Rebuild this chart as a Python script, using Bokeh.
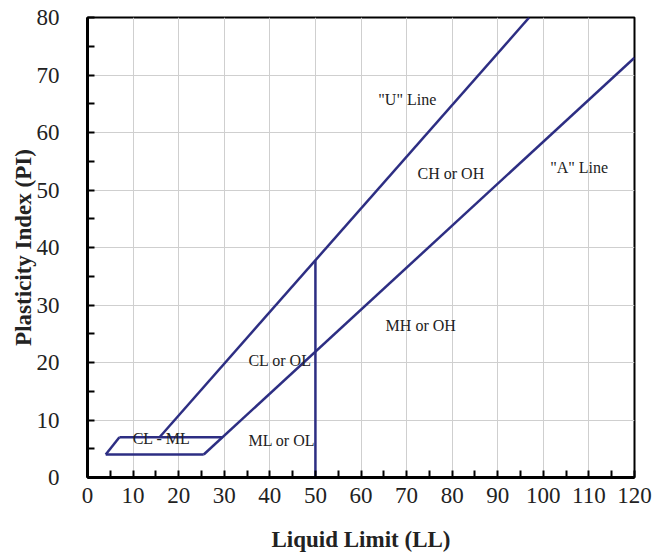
from bokeh.plotting import figure
from bokeh.models import Range1d, FixedTicker, Label
from bokeh.embed import file_html
from bokeh.resources import INLINE

# ---- data ----
u_line_ll = [15.8, 96.9]
u_line_pi = [7.0, 80.0]
a_line_ll = [25.5, 120.0]
a_line_pi = [4.0, 73.0]
ll50_ll = [50.0, 50.0]
ll50_pi = [0.0, 37.8]
clml_low_ll = [4.0, 25.5]
clml_low_pi = [4.0, 4.0]
clml_high_ll = [7.0, 29.6]
clml_high_pi = [7.0, 7.0]
clml_side_ll = [4.0, 7.0]
clml_side_pi = [4.0, 7.0]

zone_labels = ['"U" Line', "CH or OH", '"A" Line', "MH or OH", "CL or OL", "ML or OL", "CL - ML"]
zone_ll = [63.8, 72.4, 101.5, 65.4, 35.3, 35.3, 9.9]
zone_pi = [65.7, 52.9, 54.0, 26.4, 20.3, 6.4, 6.8]

x_ticks = list(range(0, 121, 10))
y_ticks = list(range(0, 81, 10))

LINE = "#2d2e83"
FONT = "Liberation Serif"

p = figure(width=656, height=556, output_backend="svg", toolbar_location=None,
           x_range=Range1d(0, 120), y_range=Range1d(0, 80),
           min_border_left=87, min_border_right=22, min_border_top=17, min_border_bottom=79)

p.outline_line_color = "black"
p.outline_line_width = 2
p.outline_line_alpha = 1

for ax, ticks in ((p.xaxis[0], x_ticks), (p.yaxis[0], y_ticks)):
    ax.ticker = FixedTicker(ticks=ticks, minor_ticks=[t + 5 for t in ticks[:-1]])
    ax.axis_line_width = 3
    ax.axis_line_color = "black"
    ax.major_tick_in = 7
    ax.major_tick_out = 0
    ax.minor_tick_in = 7
    ax.minor_tick_out = 0
    ax.major_tick_line_width = 2
    ax.minor_tick_line_width = 2
    ax.major_label_text_font = FONT
    ax.major_label_text_font_size = "23px"
    ax.major_label_text_color = "#222222"
    ax.axis_label_text_font = FONT
    ax.axis_label_text_font_size = "23px"
    ax.axis_label_text_font_style = "bold"
    ax.axis_label_text_color = "#222222"

p.xaxis.axis_label = "Liquid Limit (LL)"
p.yaxis.axis_label = "Plasticity Index (PI)"
p.xaxis.major_label_standoff = 10
p.xaxis.axis_label_standoff = 21
p.yaxis.major_label_standoff = 28
p.yaxis.axis_label_standoff = -2

p.xgrid.ticker = FixedTicker(ticks=x_ticks)
p.ygrid.ticker = FixedTicker(ticks=y_ticks)
p.grid.grid_line_color = "#cfcfcf"
p.grid.grid_line_width = 1

for xs, ys in ((u_line_ll, u_line_pi), (a_line_ll, a_line_pi), (ll50_ll, ll50_pi),
               (clml_low_ll, clml_low_pi), (clml_high_ll, clml_high_pi),
               (clml_side_ll, clml_side_pi)):
    p.line(xs, ys, line_color=LINE, line_width=2.5)

for t, x, y in zip(zone_labels, zone_ll, zone_pi):
    p.add_layout(Label(x=x, y=y, text=t, text_font=FONT, text_font_size="16px",
                       text_color="#222222", text_baseline="middle", text_align="left"))

open("out.html", "w").write(file_html(p, INLINE))
